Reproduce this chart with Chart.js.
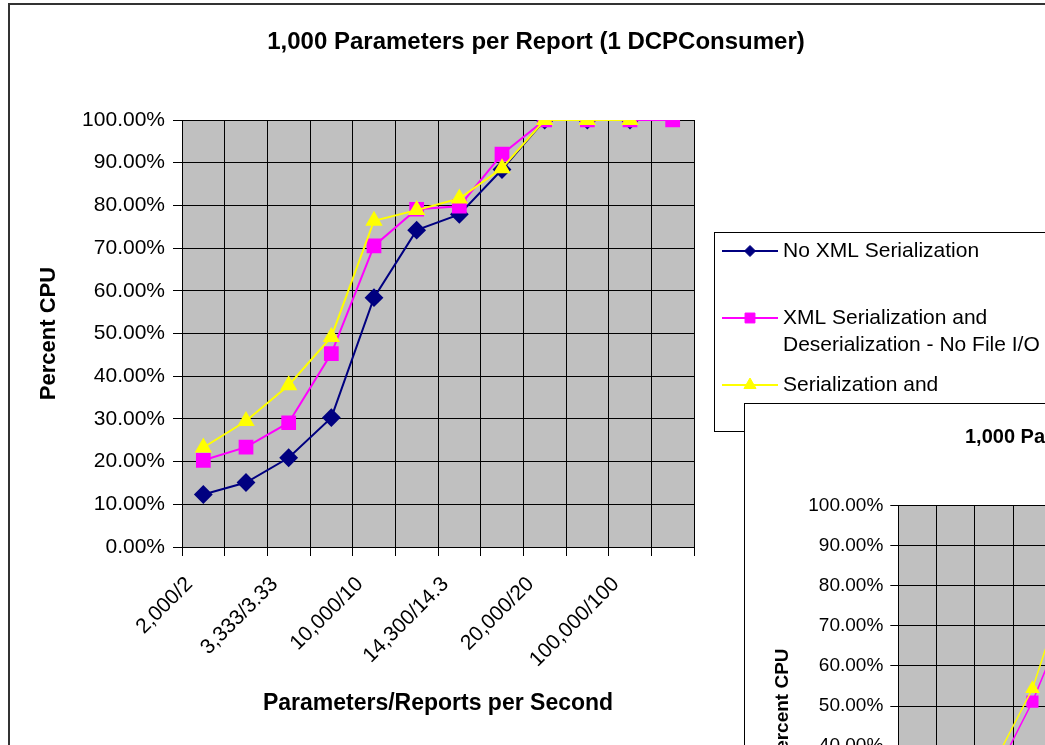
<!DOCTYPE html>
<html>
<head>
<meta charset="utf-8">
<script src="https://cdn.jsdelivr.net/npm/chart.js@4.4.1/dist/chart.umd.min.js"></script>
<style>
  html, body { margin: 0; padding: 0; background: #fff; overflow: hidden; }
  #page { position: relative; width: 1045px; height: 745px; overflow: hidden; }
  #frame { position: absolute; left: 8px; top: 3px; width: 1200px; height: 900px; border: 2px solid #333; }
  #main { position: absolute; left: 0; top: 0; }
  #inset { position: absolute; left: 744px; top: 403px; width: 700px; height: 700px; border: 1px solid #000; background: #fff; }
  #insetChart { position: absolute; left: 0; top: 0; }
</style>
</head>
<body>
<div id="page">
  <div id="frame"></div>
  <canvas id="main" width="1045" height="745"></canvas>
  <div id="inset"><canvas id="insetChart" width="700" height="700"></canvas></div>
</div>
<script>
// categories (odd labels are skipped on the axis in the original)
const categories = ['2,000/2', '', '3,333/3.33', '', '10,000/10', '', '14,300/14.3', '', '20,000/20', '', '100,000/100', ''];

// percent CPU, main chart
const noXml     = [12.3, 15.1, 20.9, 30.3, 58.4, 74.2, 77.9, 88.4, 100, 100, 100, null];
const xmlNoFile = [20.3, 23.4, 29.1, 45.3, 70.5, 79.1, 79.8, 92.0, 100, 100, 100, 100];
const xmlFile   = [23.3, 29.5, 37.9, 49.2, 76.4, 78.9, 81.6, 88.7, 100, 100, 100, null];

// second chart behind it, only partly visible
const insetXmlNoFile = [null, null, 32.3, 51.1, 74.3, null, null, null, null, null, null, null];
const insetXmlFile   = [null, null, 35.8, 54.3, 83.5, null, null, null, null, null, null, null];

const seriesNames = [
  ['No XML Serialization'],
  ['XML Serialization and', 'Deserialization - No File I/O'],
  ['Serialization and']
];
const yTicks = [0, 10, 20, 30, 40, 50, 60, 70, 80, 90, 100];

const NAVY = '#000080', MAGENTA = '#FF00FF', YELLOW = '#FFFF00';
const FONT = 'Arial, "Liberation Sans", sans-serif';
Chart.defaults.font.family = FONT;
Chart.defaults.color = '#000';

function pct(v) { return Number(v).toFixed(2) + '%'; }

const plotBg = {
  id: 'plotBg',
  beforeDraw(chart) {
    const a = chart.chartArea, ctx = chart.ctx;
    ctx.save();
    ctx.fillStyle = '#C0C0C0';
    ctx.fillRect(a.left, a.top, a.right - a.left, a.bottom - a.top);
    ctx.restore();
  }
};

const mainTitle = {
  id: 'mainTitle',
  afterDraw(chart) {
    const ctx = chart.ctx;
    ctx.save();
    ctx.font = 'bold 24px ' + FONT;
    ctx.fillStyle = '#000';
    ctx.textAlign = 'center';
    ctx.textBaseline = 'middle';
    ctx.fillText('1,000 Parameters per Report (1 DCPConsumer)', 536, 42);
    ctx.restore();
  }
};

const boxLegend = {
  id: 'boxLegend',
  afterDraw(chart) {
    const ctx = chart.ctx;
    const rows = [[251], [318, 345], [385]];
    const styles = [
      { color: NAVY, pointStyle: 'rectRot', radius: 5.5 },
      { color: MAGENTA, pointStyle: 'rect', radius: 7 },
      { color: YELLOW, pointStyle: 'triangle', radius: 7 }
    ];
    ctx.save();
    ctx.fillStyle = '#fff';
    ctx.fillRect(714.5, 232.5, 420, 199);
    ctx.strokeStyle = '#000';
    ctx.lineWidth = 1;
    ctx.strokeRect(714.5, 232.5, 420, 199);
    ctx.font = '21px ' + FONT;
    ctx.textBaseline = 'middle';
    ctx.textAlign = 'left';
    seriesNames.forEach((lines, i) => {
      const y = rows[i][0];
      const s = styles[i];
      ctx.strokeStyle = s.color;
      ctx.lineWidth = 2;
      ctx.beginPath();
      ctx.moveTo(722, y);
      ctx.lineTo(778, y);
      ctx.stroke();
      ctx.fillStyle = s.color;
      ctx.lineWidth = 1;
      Chart.helpers.drawPoint(ctx, { pointStyle: s.pointStyle, radius: s.radius, rotation: 0, borderWidth: 1 }, 750, y);
      ctx.fillStyle = '#000';
      lines.forEach((t, j) => ctx.fillText(t, 783, rows[i][j] !== undefined ? rows[i][j] : y + 27 * j));
    });
    ctx.restore();
  }
};

new Chart(document.getElementById('main'), {
  type: 'line',
  data: {
    labels: categories,
    datasets: [
      { label: seriesNames[0].join(' '), data: noXml, borderColor: NAVY, backgroundColor: NAVY,
        pointStyle: 'rectRot', pointRadius: 8, borderWidth: 2, order: 2 },
      { label: seriesNames[1].join(' '), data: xmlNoFile, borderColor: MAGENTA, backgroundColor: MAGENTA,
        pointStyle: 'rect', pointRadius: 9, borderWidth: 2, order: 1 },
      { label: seriesNames[2].join(' '), data: xmlFile, borderColor: YELLOW, backgroundColor: YELLOW,
        pointStyle: 'triangle', pointRadius: 8, borderWidth: 2, order: 0 }
    ]
  },
  options: {
    responsive: false,
    animation: false,
    events: [],
    layout: { padding: { left: 28, top: 120, right: 351, bottom: 0 } },
    plugins: { legend: { display: false }, title: { display: false }, tooltip: { enabled: false } },
    elements: { line: { tension: 0 }, point: { borderWidth: 1 } },
    scales: {
      x: {
        offset: true,
        grid: { offset: true, color: '#000', lineWidth: 1, tickLength: 9, drawTicks: true },
        border: { color: '#000', width: 1 },
        ticks: { autoSkip: false, minRotation: 45, maxRotation: 45, padding: 16, labelOffset: -14,
                 font: { size: 21 }, color: '#000' },
        title: { display: true, text: 'Parameters/Reports per Second', font: { size: 23, weight: 'bold' },
                 padding: { top: 0, bottom: 28 }, color: '#000' },
        afterFit(scale) { scale.height = 198; }
      },
      y: {
        min: 0, max: 100,
        afterBuildTicks(scale) { scale.ticks = yTicks.map(v => ({ value: v })); },
        grid: { color: '#000', lineWidth: 1, tickLength: 9 },
        border: { color: '#000', width: 1 },
        ticks: { callback: pct, padding: 8, font: { size: 21 }, color: '#000' },
        title: { display: true, text: 'Percent CPU', font: { size: 22, weight: 'bold' },
                 padding: { top: 8, bottom: 0 }, color: '#000' },
        afterFit(scale) { scale.width = 154; }
      }
    }
  },
  plugins: [plotBg, mainTitle, boxLegend]
});

const insetTitle = {
  id: 'insetTitle',
  afterDraw(chart) {
    const ctx = chart.ctx;
    ctx.save();
    ctx.font = 'bold 20px ' + FONT;
    ctx.fillStyle = '#000';
    ctx.textAlign = 'left';
    ctx.textBaseline = 'middle';
    ctx.fillText('1,000 Parameters per Report', 220, 33);
    ctx.restore();
  }
};

new Chart(document.getElementById('insetChart'), {
  type: 'line',
  data: {
    labels: categories,
    datasets: [
      { label: seriesNames[1].join(' '), data: insetXmlNoFile, borderColor: MAGENTA, backgroundColor: MAGENTA,
        pointStyle: 'rect', pointRadius: 7.5, borderWidth: 1.5, order: 1 },
      { label: seriesNames[2].join(' '), data: insetXmlFile, borderColor: YELLOW, backgroundColor: YELLOW,
        pointStyle: 'triangle', pointRadius: 7, borderWidth: 1.5, order: 0 }
    ]
  },
  options: {
    responsive: false,
    animation: false,
    events: [],
    layout: { padding: { left: 20, top: 101.5, right: 86.7, bottom: 0 } },
    plugins: { legend: { display: false }, title: { display: false }, tooltip: { enabled: false } },
    elements: { line: { tension: 0 }, point: { borderWidth: 1 } },
    scales: {
      x: {
        offset: true,
        grid: { offset: true, color: '#000', lineWidth: 1, tickLength: 8 },
        border: { color: '#000', width: 1 },
        ticks: { autoSkip: false, minRotation: 45, maxRotation: 45, padding: 14, font: { size: 19 }, color: '#000' },
        afterFit(scale) { scale.height = 197.5; }
      },
      y: {
        min: 0, max: 100,
        afterBuildTicks(scale) { scale.ticks = yTicks.map(v => ({ value: v })); },
        grid: { color: '#000', lineWidth: 1, tickLength: 8 },
        border: { color: '#000', width: 1 },
        ticks: { callback: pct, padding: 7, font: { size: 19 }, color: '#000' },
        title: { display: true, text: 'Percent CPU', font: { size: 19, weight: 'bold' },
                 padding: { top: 6, bottom: 0 }, color: '#000' },
        afterFit(scale) { scale.width = 133.3; }
      }
    }
  },
  plugins: [plotBg, insetTitle]
});
</script>
</body>
</html>
